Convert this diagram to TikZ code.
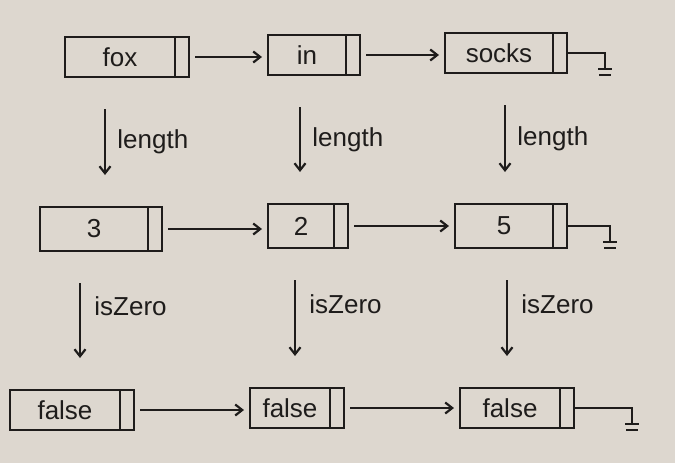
\documentclass[tikz,border=0pt]{standalone}
\usepackage{fontspec}
\setmainfont{Liberation Sans}
\usetikzlibrary{arrows.meta,calc}
\definecolor{paper}{RGB}{221,215,207}
\definecolor{ink}{RGB}{30,28,27}
\begin{document}
\begin{tikzpicture}[x=1pt,y=-1pt,
  line width=2.2pt, draw=ink, text=ink,
  databox/.style={draw, minimum height=40pt, inner sep=0pt, outer sep=0pt, font=\fontsize{26}{30}\selectfont, anchor=west},
  ptrbox/.style={draw, minimum width=14pt, minimum height=40pt, inner sep=0pt, outer sep=0pt, anchor=west},
  link/.style={-{Straight Barb[length=7pt,width=11pt]}, shorten <=6pt, shorten >=6pt},
  fn/.style={-{Straight Barb[length=7pt,width=11pt]}, shorten <=32pt, shorten >=32pt},
  fnlabel/.style={anchor=west, font=\fontsize{26}{30}\selectfont},
  nil/.style={line join=miter}
]
\fill[paper] (0,0) rectangle (675,463);
\useasboundingbox (0,0) rectangle (675,463);

% row 1
\node[databox, minimum width=110pt] (a1) at (65,57) {fox};
\node[ptrbox] (p1) at (a1.east) {};
\node[databox, minimum width=78pt] (a2) at (268,55) {in};
\node[ptrbox] (p2) at (a2.east) {};
\node[databox, minimum width=108pt] (a3) at (445,53) {socks};
\node[ptrbox] (p3) at (a3.east) {};
\coordinate (g1) at (605,53);

% row 2
\node[databox, minimum width=108pt, minimum height=44pt] (b1) at (40,229) {3};
\node[ptrbox, minimum height=44pt] (q1) at (b1.east) {};
\node[databox, minimum width=66pt, minimum height=44pt] (b2) at (268,226) {2};
\node[ptrbox, minimum height=44pt] (q2) at (b2.east) {};
\node[databox, minimum width=98pt, minimum height=44pt] (b3) at (455,226) {5};
\node[ptrbox, minimum height=44pt] (q3) at (b3.east) {};
\coordinate (g2) at (610,226);

% row 3
\node[databox, minimum width=110pt] (c1) at (10,410) {false};
\node[ptrbox] (r1) at (c1.east) {};
\node[databox, minimum width=80pt] (c2) at (250,408) {false};
\node[ptrbox] (r2) at (c2.east) {};
\node[databox, minimum width=100pt] (c3) at (460,408) {false};
\node[ptrbox] (r3) at (c3.east) {};
\coordinate (g3) at (632,408);

% links
\draw[link] (p1.east) -- (p1.east -| a2.west);
\draw[link] (p2.east) -- (p2.east -| a3.west);
\draw[link] (q1.east) -- (q1.east -| b2.west);
\draw[link] (q2.east) -- (q2.east -| b3.west);
\draw[link] (r1.east) -- (r1.east -| c2.west);
\draw[link] (r2.east) -- (r2.east -| c3.west);

% nil (ground) terminators
\foreach \p/\g in {p3/g1, q3/g2, r3/g3}{
  \draw[nil] (\p.east) -- (\g) -- ++(0,16);
  \draw ($(\g)+(-7,16)$) -- ++(14,0);
  \draw ($(\g)+(-6,22)$) -- ++(12,0);
}

% function arrows
\coordinate (x1) at (105,0);
\coordinate (x2) at (300,0);
\coordinate (x3) at (505,0);
\draw[fn] (a1.south -| x1) -- (b1.north -| x1) node[fnlabel, pos=0.5, xshift=8pt] {length};
\draw[fn] (a2.south -| x2) -- (b2.north -| x2) node[fnlabel, pos=0.5, xshift=8pt] {length};
\draw[fn] (a3.south -| x3) -- (b3.north -| x3) node[fnlabel, pos=0.5, xshift=8pt] {length};

\coordinate (y1) at (80,0);
\coordinate (y2) at (295,0);
\coordinate (y3) at (507,0);
\draw[fn] (b1.south -| y1) -- (c1.north -| y1) node[fnlabel, pos=0.4, xshift=10pt] {isZero};
\draw[fn] (b2.south -| y2) -- (c2.north -| y2) node[fnlabel, pos=0.4, xshift=10pt] {isZero};
\draw[fn] (b3.south -| y3) -- (c3.north -| y3) node[fnlabel, pos=0.4, xshift=10pt] {isZero};
\end{tikzpicture}
\end{document}
